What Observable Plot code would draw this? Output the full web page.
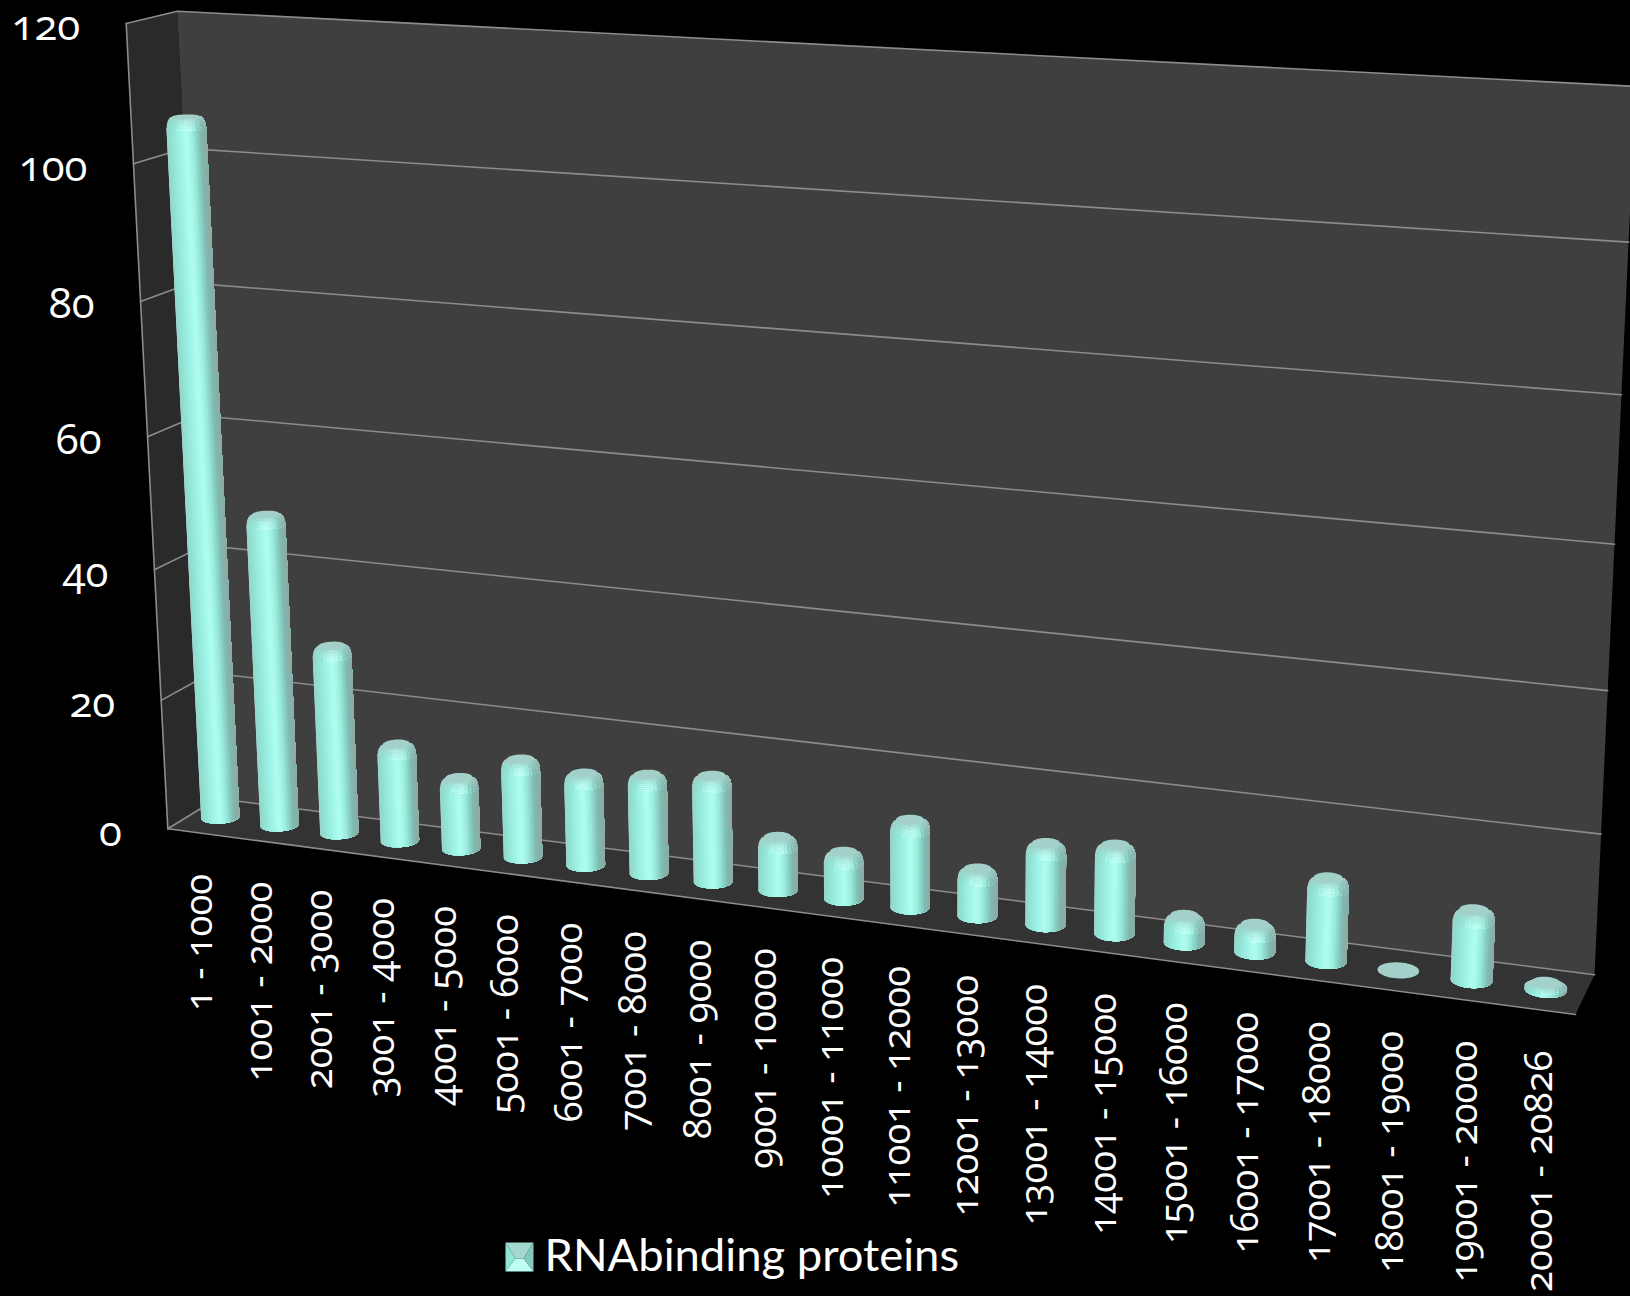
<!DOCTYPE html>
<html>
<head>
<meta charset="utf-8">
<script src="https://cdn.jsdelivr.net/npm/d3@7"></script>
<script src="https://cdn.jsdelivr.net/npm/@observablehq/plot@0.6"></script>
<style>
  html, body { margin: 0; padding: 0; background: #000; overflow: hidden; }
  svg { display: block; overflow: hidden; }
</style>
</head>
<body>
<div id="chart"></div>
<script>
// Protein counts per sequence-length bin
const categories = ["1 - 1000","1001 - 2000","2001 - 3000","3001 - 4000","4001 - 5000","5001 - 6000","6001 - 7000","7001 - 8000","8001 - 9000","9001 - 10000","10001 - 11000","11001 - 12000","12001 - 13000","13001 - 14000","14001 - 15000","15001 - 16000","16001 - 17000","17001 - 18000","18001 - 19000","19001 - 20000","20001 - 20826"];
const counts = [106,48,29,15,11,15,14,15,16,8,7,13,7,12,13,4,4,12,0,10,1];
const yTicks = [0,20,40,60,80,100,120];
const yMax = 120;
const legendLabel = "RNAbinding proteins";

const W = 1630, H = 1296;
const FONT = "'Open Sans', Lato, sans-serif";

// Corners of the chart box on screen: back plane and front plane
const backBox  = {bl:[216.6,798],  br:[1594,974.3], tr:[1635.3,85.9], tl:[176.7,10.7]};
const frontBox = {bl:[167.3,828.3], br:[1575,1014], tr:[1614,108],    tl:[125.7,23]};

const lerp = (a, b, t) => a + (b - a) * t;

// Unit square to quad homography
function homography(q) {
  const [x0,y0] = q.bl, [x1,y1] = q.br, [x2,y2] = q.tr, [x3,y3] = q.tl;
  const dx1 = x1-x2, dx2 = x3-x2, sx = x0-x1+x2-x3;
  const dy1 = y1-y2, dy2 = y3-y2, sy = y0-y1+y2-y3;
  const den = dx1*dy2 - dx2*dy1;
  const g = (sx*dy2 - dx2*sy)/den, h = (dx1*sy - sx*dy1)/den;
  return [x1-x0+g*x1, x3-x0+h*x3, x0, y1-y0+g*y1, y3-y0+h*y3, y0, g, h];
}

// Box position (across, share of the value range, depth) to screen position
function project(u, v, w) {
  const corner = k => [lerp(backBox[k][0], frontBox[k][0], w), lerp(backBox[k][1], frontBox[k][1], w)];
  const [a,b,c,d,e,f,g,h] = homography({bl:corner("bl"), br:corner("br"), tr:corner("tr"), tl:corner("tl")});
  const z = g*u + h*v + 1;
  return [(a*u + b*v + c)/z, (d*u + e*v + f)/z];
}

const polygons = [];
let polyId = 0;
function addPolygon(points, color) {
  const id = polyId++;
  for (const [x, y] of points) polygons.push({x, y, id, color});
}

// Walls and floor
const wall = (pts, color) => addPolygon(pts.map(([u,v,w]) => project(u,v,w)), color);
wall([[0,0,0],[0,1,0],[0,1,1],[0,0,1]], "#2a2a2a");
wall([[0,0,0],[1,0,0],[1,1,0],[0,1,0]], "#3f3f3f");
wall([[0,0,0],[1,0,0],[1,0,1],[0,0,1]], "#333333");

// Frame and gridlines
const frameLines = [];
let lineId = 0;
function addLine(pts) {
  const id = lineId++;
  for (const [u,v,w] of pts) { const [x,y] = project(u,v,w); frameLines.push({x, y, id}); }
}
for (const t of yTicks) addLine([[0,t/yMax,1],[0,t/yMax,0],[1,t/yMax,0]]);
addLine([[0,0,1],[0,1,1]]);
addLine([[0,0,1],[1,0,1]]);

// Cylinder shading by horizontal position across the visible side
const shade = d3.scaleLinear()
  .domain([0, .05, .3, .5, .66, .86, 1])
  .range(["#a8cfc9", "#8edccf", "#9cf2e3", "#b0fff1", "#99ecdd", "#7fb9af", "#8fa9a5"])
  .interpolate(d3.interpolateRgb);
const capColor = "#a3d1ca";

const bandDu = 1 / categories.length;
const radiusU = 0.28 * bandDu, radiusW = 0.2, planeW = 0.5, barShiftU = -0.0012;

function drawCylinder(i, count) {
  const u0 = (i + .5) * bandDu + barShiftU;
  const v1 = count / yMax;
  const ring = (theta, v, k = 1) => project(u0 + k*radiusU*Math.cos(theta), v, planeW + k*radiusW*Math.sin(theta));
  const full = (v, k = 1) => d3.range(48).map(j => ring(j/48*2*Math.PI, v, k));

  if (count === 0) { addPolygon(full(0), capColor); return; }

  // The silhouette runs from the leftmost to the rightmost point of the base circle
  const base = full(0);
  const a0 = d3.minIndex(base, p => p[0])/48*2*Math.PI;
  let a1 = d3.maxIndex(base, p => p[0])/48*2*Math.PI;
  while (a1 > a0) a1 -= 2*Math.PI;
  const N = 30;
  const theta = j => a0 + (a1-a0)*j/N;
  const xShare = t => (1 - Math.cos(Math.PI*t))/2;

  const bevel = Math.min(1.6, count*.6) / yMax;
  const vb = v1 - bevel;

  addPolygon(full(0), shade(.5));
  addPolygon(full(vb), capColor);

  // Each strip runs to the right edge and the next one paints over it, which leaves no seams
  for (let j = 0; j < N; j++) {
    const js = d3.range(j, N+1);
    addPolygon([...js.map(q => ring(theta(q),0)), ...js.reverse().map(q => ring(theta(q),vb))], shade(xShare((j+.5)/N)));
  }
  // Rounded shoulder under the top face
  const rows = 8;
  const lift = r => vb + bevel*Math.sin(r/rows*Math.PI/2);
  const inset = r => 1 - .3*(1 - Math.cos(r/rows*Math.PI/2));
  for (let r = 0; r < rows; r++) {
    const fade = r/(rows-1);
    for (let j = 0; j < N; j += 2) {
      const t = xShare((j+1)/N);
      const glow = Math.max(0, 1 - Math.abs(t-.5)/.3);
      const lit = d3.interpolateRgb(shade(t), "#c0fff5")(glow * (fade < .5 ? 1 : 1.6 - 1.2*fade));
      const color = d3.interpolateRgb(lit, capColor)(Math.pow(fade, 1.5)*.8);
      const js = d3.range(j, N+1);
      addPolygon([...js.map(q => ring(theta(q),lift(r),inset(r))), ...js.reverse().map(q => ring(theta(q),lift(rows),inset(rows)))], color);
    }
  }
  addPolygon(full(v1, inset(rows)), capColor);
}
counts.forEach((c, i) => drawCylinder(i, c));

// Legend swatch, a square bevelled towards a short ridge
const sw = {x0:505, x1:533, y0:1242, y1:1271, ix0:515, ix1:523, iy:1258};
addPolygon([[sw.x0,sw.y0],[sw.x1,sw.y0],[sw.ix1,sw.iy],[sw.ix0,sw.iy]], "#a5d8cf");
addPolygon([[sw.x0,sw.y0],[sw.ix0,sw.iy],[sw.x0,sw.y1]], "#8fe6d8");
addPolygon([[sw.x1,sw.y0],[sw.ix1,sw.iy],[sw.x1,sw.y1]], "#85c9bd");
addPolygon([[sw.x0,sw.y1],[sw.ix0,sw.iy],[sw.ix1,sw.iy],[sw.x1,sw.y1]], "#bdfff2");

const catLabels = categories.map((text, i) => {
  const [x, y] = project((i+.5)*bandDu, 0, 1);
  return {text, x: x + 2, y: y + 41};
});
const yLabels = yTicks.map(t => {
  const [x, y] = project(0, t/yMax, 1);
  return {text: String(t), x: x - 46, y: y + 3.5};
});

const chart = Plot.plot({
  width: W, height: H,
  margin: 0,
  x: {domain: [0, W], range: [0, W], axis: null},
  y: {domain: [0, H], range: [0, H], axis: null},
  style: {background: "#000", color: "#fff"},
  marks: [
    Plot.line(polygons.filter(d => d.id < 3), {x:"x", y:"y", z:"id", fill:"color", stroke:"none", curve:"linear-closed"}),
    Plot.line(frameLines, {x:"x", y:"y", z:"id", stroke:"#8c8c8c", strokeWidth:1.6}),
    Plot.line(polygons.filter(d => d.id >= 3), {x:"x", y:"y", z:"id", fill:"color", stroke:"none", curve:"linear-closed"}),
    Plot.text(catLabels, {x:"x", y:"y", text:"text", rotate:-90, textAnchor:"end", lineAnchor:"middle", fill:"#fff", fontSize:38.4, fontFamily:FONT, fontVariant:"oldstyle-nums"}),
    Plot.text(yLabels, {x:"x", y:"y", text:"text", textAnchor:"end", lineAnchor:"middle", fill:"#fff", fontSize:42, fontFamily:FONT, fontVariant:"oldstyle-nums"}),
    Plot.text([legendLabel], {x:[544], y:[1256], text:d => d, textAnchor:"start", lineAnchor:"middle", fill:"#fff", fontSize:45.4, fontFamily:"Lato, sans-serif"})
  ]
});
document.getElementById("chart").appendChild(chart);
</script>
</body>
</html>
